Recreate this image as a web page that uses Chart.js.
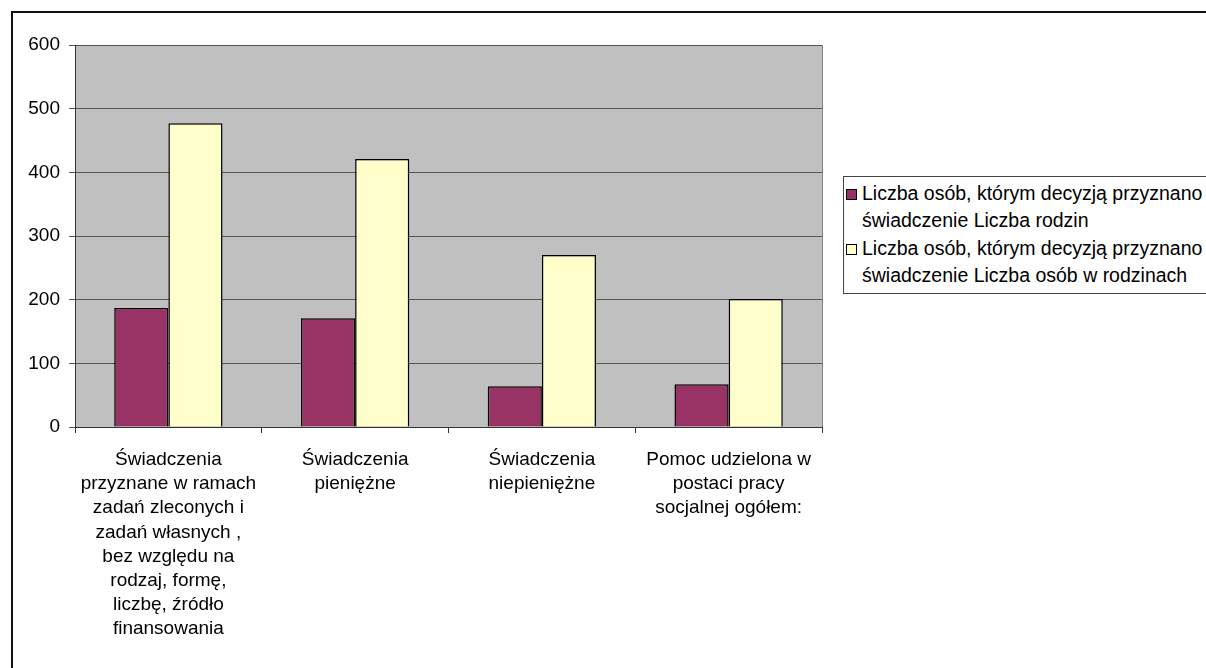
<!DOCTYPE html>
<html>
<head>
<meta charset="utf-8">
<script src="https://cdn.jsdelivr.net/npm/chart.js@4/dist/chart.umd.min.js"></script>
<style>
  html, body { margin: 0; padding: 0; background: #fff; overflow: hidden; }
  #wrap { position: relative; width: 1206px; height: 668px; }
  #frame { position: absolute; left: 11px; top: 11px; width: 1220px; height: 700px; border: 2px solid #111; box-sizing: border-box; }
  #legend { position: absolute; left: 843px; top: 176px; width: 400px; height: 118px; border: 1px solid #444; background: #fff;
            font-family: "Liberation Sans", Arial, sans-serif; font-size: 19.5px; color: #000; box-sizing: border-box; padding-top: 3px; }
  .item { position: relative; padding-left: 18px; line-height: 27px; margin-bottom: 1px; white-space: nowrap; }
  .sw { position: absolute; left: 2px; top: 9px; width: 11px; height: 11px; border: 1px solid #000; box-sizing: border-box; }
  canvas { position: absolute; left: 0; top: 0; }
</style>
</head>
<body>
<div id="wrap">
  <div id="frame"></div>
  <canvas id="myChart" width="1206" height="668"></canvas>
  <div id="legend"></div>
</div>
<script>
//data
const categories = [
  ["Świadczenia", "przyznane w ramach", "zadań zleconych i", "zadań własnych ,", "bez względu na", "rodzaj, formę,", "liczbę, źródło", "finansowania"],
  ["Świadczenia", "pieniężne"],
  ["Świadczenia", "niepieniężne"],
  ["Pomoc udzielona w", "postaci pracy", "socjalnej ogółem:"]
];
const seriesNames = [
  ["Liczba osób, którym decyzją przyznano", "świadczenie Liczba rodzin"],
  ["Liczba osób, którym decyzją przyznano", "świadczenie Liczba osób w rodzinach"]
];
const rodziny = [187, 171, 64, 67];
const osoby = [477, 421, 270, 201];
const yTicks = [0, 100, 200, 300, 400, 500, 600];
const colors = ["#993366", "#ffffcc"];

const font = { family: "'Liberation Sans', Arial, sans-serif", size: 19 };

//plot background
const plotBg = {
  id: 'plotBg',
  beforeDraw(chart) {
    const { ctx, chartArea: a } = chart;
    ctx.save();
    ctx.fillStyle = '#c0c0c0';
    ctx.fillRect(a.left, a.top, a.right - a.left, a.bottom - a.top);
    ctx.strokeStyle = '#808080';
    ctx.lineWidth = 1;
    ctx.beginPath();
    ctx.moveTo(a.right + 0.5, a.top);
    ctx.lineTo(a.right + 0.5, a.bottom);
    ctx.stroke();
    ctx.restore();
  }
};

const data = {
  labels: categories,
  datasets: [rodziny, osoby].map((vals, i) => ({
    label: seriesNames[i].join(' '),
    data: vals,
    backgroundColor: colors[i],
    borderColor: '#000',
    borderWidth: 1.5,
    borderSkipped: 'bottom',
    categoryPercentage: 0.58,
    barPercentage: 1
  }))
};

const options = {
  responsive: false,
  animation: false,
  layout: { padding: { left: 0, top: 45, right: 384, bottom: 0 } },
  plugins: {
    legend: { display: false },
    tooltip: { enabled: false }
  },
  scales: {
    x: {
      afterFit(s) { s.height = 241; },
      grid: { offset: true, drawOnChartArea: false, color: '#333', tickLength: 6 },
      border: { color: '#333', width: 1 },
      ticks: { color: '#000', font: { ...font, lineHeight: '24.1px' }, padding: 15, maxRotation: 0, autoSkip: false }
    },
    y: {
      min: 0,
      max: 600,
      afterFit(s) { s.width = 75; },
      afterBuildTicks(s) { s.ticks = yTicks.map(v => ({ value: v })); },
      grid: { color: '#555', tickLength: 6 },
      border: { color: '#333', width: 1 },
      ticks: { color: '#000', font, padding: 9 }
    }
  }
};

const config = { type: 'bar', data, options, plugins: [plotBg] };

//render
const myChart = new Chart(document.getElementById('myChart'), config);

//legend
const leg = document.getElementById('legend');
seriesNames.forEach((lines, i) => {
  const d = document.createElement('div');
  d.className = 'item';
  d.innerHTML = '<span class="sw" style="background:' + colors[i] + '"></span>' + lines.join('<br>');
  leg.appendChild(d);
});
</script>
</body>
</html>
